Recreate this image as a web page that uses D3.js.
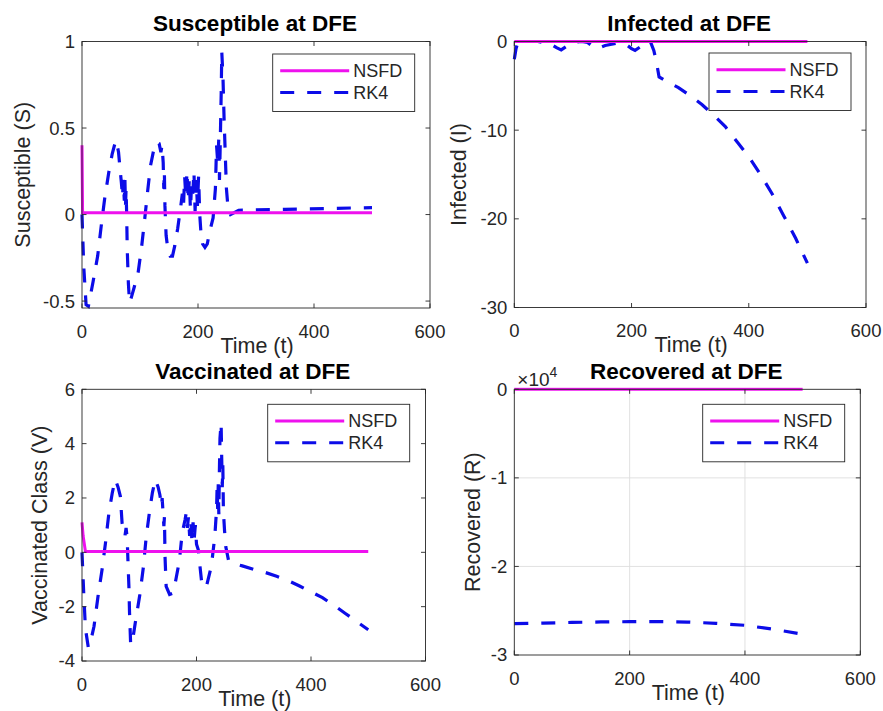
<!DOCTYPE html>
<html>
<head>
<meta charset="utf-8">
<script src="https://cdn.jsdelivr.net/npm/d3@7"></script>
<style>
  body { margin: 0; background: #fff; }
  svg { display: block; font-family: "Liberation Sans", Arial, Helvetica, sans-serif; }
</style>
</head>
<body>
<div id="chart"></div>
<script>
// ---- data ----
var TIME_TICKS = [0, 200, 400, 600];
var SERIES_NAMES = ["NSFD", "RK4"];

// Susceptible
var S_NSFD = [[0, 0.4], [1, 0.01], [500, 0.01]];
var S_RK4 = [[0, 0], [3, -0.3], [7, -0.52], [11, -0.53], [15, -0.46], [19, -0.39], [27, -0.24], [33, -0.07],
  [39, 0.09], [46, 0.24], [52, 0.35], [56, 0.4], [59, 0.43], [63, 0.36], [66, 0.25], [68, 0.18],
  [70, 0.1], [71, 0.2], [73, 0.08], [74, 0.2], [75, 0.05], [76, 0.15], [77, 0], [78, -0.2],
  [80, -0.4], [82, -0.51], [85, -0.48], [90, -0.42], [97, -0.33], [103, -0.18], [108, -0.03],
  [113, 0.13], [118, 0.28], [124, 0.38], [128, 0.42], [133, 0.41], [136, 0.36], [138, 0.4],
  [140, 0.3], [141, 0.15], [142, 0.25], [143, 0.05], [145, -0.12], [148, -0.2], [152, -0.24],
  [156, -0.24], [160, -0.18], [165, -0.08], [170, 0.04], [173, 0.12], [175, 0.05], [177, 0.22],
  [179, 0.1], [181, 0.25], [183, 0.08], [185, 0.2], [187, 0.03], [189, 0.18], [191, 0.12],
  [193, 0.25], [195, 0.02], [197, 0.2], [199, 0.05], [201, 0.22], [203, 0], [205, -0.1],
  [208, -0.17], [212, -0.19], [216, -0.17], [220, -0.1], [226, -0.02], [230, 0.15], [232, 0.4],
  [234, 0.3], [236, 0.45], [237, 0.2], [238, 0.35], [240, 0.7], [241, 0.94], [243, 0.8],
  [245, 0.55], [247, 0.35], [249, 0.15], [252, 0.03], [256, 0], [270, 0.025], [350, 0.03],
  [420, 0.035], [500, 0.04]];

// Infected
var I_NSFD = [[0, 0], [500, 0]];
var I_RK4 = [[0, -2], [3, -0.8], [6, -0.1], [15, 0], [40, 0], [60, -0.2], [72, -0.7], [80, -0.95],
  [88, -0.6], [100, -0.1], [115, 0], [125, -0.1], [135, -0.6], [142, -0.8], [155, -0.45],
  [175, -0.2], [190, -0.3], [200, -0.8], [206, -1], [215, -0.6], [225, -0.05], [232, 0],
  [238, -1], [243, -2.5], [247, -4], [260, -4.5], [280, -5.2], [300, -6.1], [320, -7.1],
  [340, -8.3], [360, -9.6], [380, -11.3], [400, -13], [420, -15], [440, -17.2], [460, -19.7],
  [480, -22.2], [500, -25]];

// Vaccinated
var V_NSFD = [[0, 1.1], [2, 0.6], [6, 0.03], [500, 0.03]];
var V_RK4 = [[0, 0], [3, -1.5], [6, -2.8], [11, -3.5], [16, -3.2], [21, -2.72], [28, -1.62],
  [35, -0.64], [41, 0.34], [47, 1.45], [53, 2.2], [58, 2.68], [63, 2.4], [67, 2.06], [70, 1.08],
  [73, 0.8], [75, 0.6], [77, 0.9], [79, 0.5], [80, -0.15], [82, -1.3], [83, -2.2], [85, -3.4],
  [88, -3.3], [93, -2.6], [101, -1.56], [107, -0.58], [112, 0.53], [118, 1.51], [123, 2.2],
  [128, 2.68], [133, 2.4], [136, 2.12], [139, 1.7], [140, 2.0], [143, 0.96], [144, 1.3],
  [145, -0.15], [147, -1.25], [153, -1.55], [159, -1.5], [164, -1.0], [170, -0.33], [175, 0.71],
  [180, 1.2], [182, 1.45], [184, 0.9], [186, 1.3], [188, 0.6], [190, 1.2], [192, 0.4],
  [194, 1.1], [196, 0.5], [198, 1.0], [200, 0.3], [203, 0.1], [206, -0.5], [209, -1.1],
  [213, -1.31], [218, -1.2], [226, -0.5], [232, 0.59], [235, 1.57], [236, 2.4], [237, 1.6],
  [238, 2.5], [239, 1.4], [240, 3.0], [241, 4.2], [243, 4.76], [244, 3.5], [245, 2.4],
  [246, 3.2], [247, 1.5], [249, 0.8], [251, 0.22], [256, -0.3], [265, -0.42], [280, -0.5],
  [300, -0.63], [320, -0.74], [340, -0.88], [360, -1.04], [380, -1.24], [400, -1.45],
  [420, -1.67], [440, -1.95], [460, -2.25], [480, -2.55], [500, -2.85]];

// Recovered
var R_NSFD = [[0, 0], [500, 0]];
var R_RK4 = [[0, -26450], [50, -26400], [100, -26320], [150, -26270], [200, -26240],
  [250, -26220], [300, -26280], [350, -26420], [400, -26650], [450, -27100], [500, -27650]];

var S_TICKS = [-0.5, 0, 0.5, 1];
var I_TICKS = [-30, -20, -10, 0];
var V_TICKS = [-4, -2, 0, 2, 4, 6];
var R_TICKS = [-30000, -20000, -10000, 0];

// ---- styling / layout ----
var W = 883, H = 711;
var MAGENTA = "#ee11ee";
var BLUE = "#0c0ce8";
var AXIS_COLOR = "#262626";
var TICK_FONT = 18.5, LABEL_FONT = 21.5, TITLE_FONT = 22.5, LEGEND_FONT = 18;

var panels = [
  { title: "Susceptible at DFE", ylabel: "Susceptible (S)", nsfd: S_NSFD, rk4: S_RK4,
    yDomain: [-0.54, 1], yTicks: S_TICKS, left: 82, right: 430, top: 41.5, bottom: 308,
    ylabelX: 22, legend: { x: 272.7, y: 54 } },
  { title: "Infected at DFE", ylabel: "Infected (I)", nsfd: I_NSFD, rk4: I_RK4,
    yDomain: [-30, 0], yTicks: I_TICKS, left: 514.3, right: 866, top: 41.5, bottom: 307.5,
    ylabelX: 458, legend: { x: 709, y: 53 } },
  { title: "Vaccinated at DFE", ylabel: "Vaccinated Class (V)", nsfd: V_NSFD, rk4: V_RK4,
    yDomain: [-4, 6], yTicks: V_TICKS, left: 82, right: 425.5, top: 389.3, bottom: 661,
    ylabelX: 39, legend: { x: 267.7, y: 404.3 } },
  { title: "Recovered at DFE", ylabel: "Recovered (R)", nsfd: R_NSFD, rk4: R_RK4,
    yDomain: [-30000, 0], yTicks: R_TICKS, left: 514.3, right: 860.3, top: 389.3, bottom: 655,
    ylabelX: 472, legend: { x: 702.7, y: 404.3 }, grid: true, exponent: 4 }
];

var svg = d3.select("#chart").append("svg")
  .attr("width", W)
  .attr("height", H);

panels.forEach(function(p, i) { drawPanel(p, i); });

function drawPanel(p, idx) {
  var x = d3.scaleLinear().domain([0, 600]).range([p.left, p.right]);
  var y = d3.scaleLinear().domain(p.yDomain).range([p.bottom, p.top]);
  var g = svg.append("g");
  var cx = (p.left + p.right) / 2;
  var cy = (p.top + p.bottom) / 2;

  // white axes background
  g.append("rect")
    .attr("x", p.left).attr("y", p.top)
    .attr("width", p.right - p.left).attr("height", p.bottom - p.top)
    .attr("fill", "#fff");

  if (p.grid) {
    g.selectAll(".vgrid")
      .data(TIME_TICKS.filter(function(d) { return d > 0 && d < 600; }))
      .join("line")
      .attr("x1", function(d) { return x(d); }).attr("x2", function(d) { return x(d); })
      .attr("y1", p.top).attr("y2", p.bottom)
      .attr("stroke", "#dedede").attr("stroke-width", 0.9);
    g.selectAll(".hgrid")
      .data(p.yTicks.filter(function(d) { return d > p.yDomain[0] && d < p.yDomain[1]; }))
      .join("line")
      .attr("x1", p.left).attr("x2", p.right)
      .attr("y1", function(d) { return y(d); }).attr("y2", function(d) { return y(d); })
      .attr("stroke", "#dedede").attr("stroke-width", 0.9);
  }

  // clip lines to the axes box
  var clipId = "clip" + idx;
  svg.append("clipPath").attr("id", clipId)
    .append("rect")
    .attr("x", p.left - 2).attr("y", p.top - 2)
    .attr("width", p.right - p.left + 4).attr("height", p.bottom - p.top + 4);

  var line = d3.line()
    .x(function(d) { return x(d[0]); })
    .y(function(d) { return y(d[1]); });

  var lines = g.append("g").attr("clip-path", "url(#" + clipId + ")");
  lines.append("path")
    .datum(p.rk4)
    .attr("d", line)
    .attr("fill", "none")
    .attr("stroke", BLUE)
    .attr("stroke-width", 3.2)
    .attr("stroke-dasharray", "14,13");
  lines.append("path")
    .datum(p.nsfd)
    .attr("d", line)
    .attr("fill", "none")
    .attr("stroke", MAGENTA)
    .attr("stroke-width", 3);

  // box and ticks (MATLAB style, ticks inward on all sides)
  g.append("rect")
    .attr("x", p.left).attr("y", p.top)
    .attr("width", p.right - p.left).attr("height", p.bottom - p.top)
    .attr("fill", "none")
    .attr("stroke", AXIS_COLOR)
    .attr("stroke-width", 0.9);

  var tl = 4.5;
  TIME_TICKS.forEach(function(t) {
    g.append("line")
      .attr("x1", x(t)).attr("x2", x(t))
      .attr("y1", p.bottom).attr("y2", p.bottom - tl)
      .attr("stroke", AXIS_COLOR).attr("stroke-width", 0.9);
    g.append("line")
      .attr("x1", x(t)).attr("x2", x(t))
      .attr("y1", p.top).attr("y2", p.top + tl)
      .attr("stroke", AXIS_COLOR).attr("stroke-width", 0.9);
  });
  p.yTicks.forEach(function(v) {
    g.append("line")
      .attr("x1", p.left).attr("x2", p.left + tl)
      .attr("y1", y(v)).attr("y2", y(v))
      .attr("stroke", AXIS_COLOR).attr("stroke-width", 0.9);
    g.append("line")
      .attr("x1", p.right).attr("x2", p.right - tl)
      .attr("y1", y(v)).attr("y2", y(v))
      .attr("stroke", AXIS_COLOR).attr("stroke-width", 0.9);
  });

  // tick labels
  g.selectAll(".xtl")
    .data(TIME_TICKS)
    .join("text")
    .attr("x", function(d) { return x(d); })
    .attr("y", p.bottom + 29.5)
    .attr("text-anchor", "middle")
    .attr("fill", AXIS_COLOR)
    .style("font-size", TICK_FONT + "px")
    .text(function(d) { return d; });

  var fmt = p.exponent ? function(d) { return d / Math.pow(10, p.exponent); } : function(d) { return d; };
  g.selectAll(".ytl")
    .data(p.yTicks)
    .join("text")
    .attr("x", p.left - 7)
    .attr("y", function(d) { return y(d); })
    .attr("dy", "0.35em")
    .attr("text-anchor", "end")
    .attr("fill", AXIS_COLOR)
    .style("font-size", TICK_FONT + "px")
    .text(fmt);

  if (p.exponent) {
    var ex = g.append("text")
      .attr("x", p.left + 3)
      .attr("y", p.top - 3)
      .attr("fill", AXIS_COLOR)
      .style("font-size", "19px");
    ex.append("tspan").text("\u00d710");
    ex.append("tspan")
      .attr("dy", -9)
      .style("font-size", "14px")
      .text(p.exponent);
  }

  // labels and title
  g.append("text")
    .attr("x", cx + 1)
    .attr("y", p.bottom + 44.5)
    .attr("text-anchor", "middle")
    .attr("fill", AXIS_COLOR)
    .style("font-size", LABEL_FONT + "px")
    .text("Time (t)");

  g.append("text")
    .attr("transform", "translate(" + p.ylabelX + "," + cy + ") rotate(-90)")
    .attr("text-anchor", "middle")
    .attr("dy", "0.35em")
    .attr("fill", AXIS_COLOR)
    .style("font-size", LABEL_FONT + "px")
    .text(p.ylabel);

  g.append("text")
    .attr("x", cx - 1)
    .attr("y", p.top - 10.5)
    .attr("text-anchor", "middle")
    .attr("fill", "#000")
    .style("font-size", TITLE_FONT + "px")
    .style("font-weight", "bold")
    .text(p.title);

  drawLegend(g, p.legend);
}

function drawLegend(g, pos) {
  var w = 142, h = 57.5;
  var lg = g.append("g").attr("transform", "translate(" + pos.x + "," + pos.y + ")");
  lg.append("rect")
    .attr("width", w).attr("height", h)
    .attr("fill", "#fff")
    .attr("stroke", AXIS_COLOR)
    .attr("stroke-width", 0.9);

  var rows = [
    { name: SERIES_NAMES[0], color: MAGENTA, dash: null, y: 16.8 },
    { name: SERIES_NAMES[1], color: BLUE, dash: "14,13", y: 38.5 }
  ];
  rows.forEach(function(r) {
    lg.append("line")
      .attr("x1", 7.5).attr("x2", 76.5)
      .attr("y1", r.y).attr("y2", r.y)
      .attr("stroke", r.color)
      .attr("stroke-width", 3)
      .attr("stroke-dasharray", r.dash);
    lg.append("text")
      .attr("x", 80.5)
      .attr("y", r.y)
      .attr("dy", "0.35em")
      .attr("fill", AXIS_COLOR)
      .style("font-size", LEGEND_FONT + "px")
      .text(r.name);
  });
}
</script>
</body>
</html>
